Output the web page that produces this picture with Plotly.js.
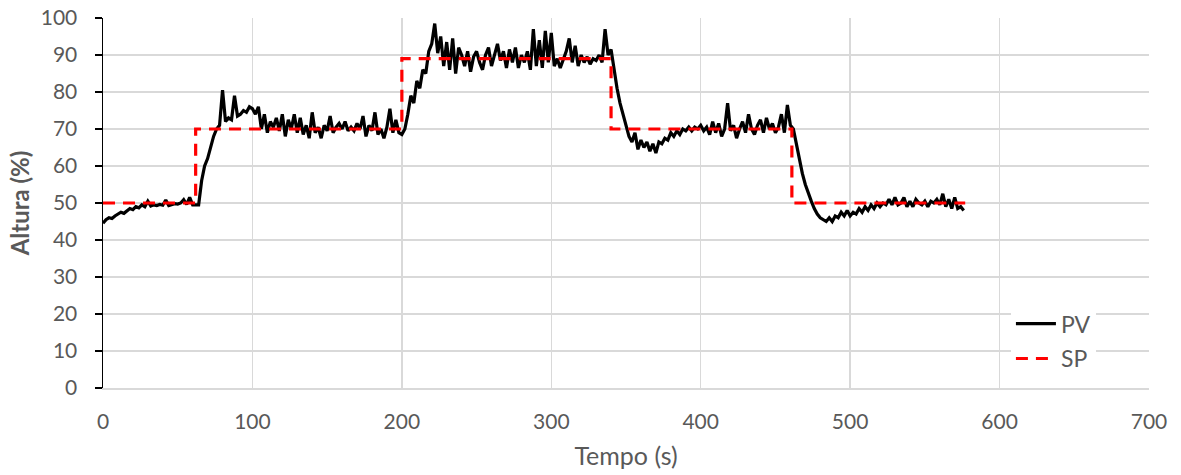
<!DOCTYPE html>
<html>
<head>
<meta charset="utf-8">
<script src="https://cdn.plot.ly/plotly-3.0.1.min.js"></script>
<style>html,body{margin:0;padding:0;background:#fff;}#chart{width:1181px;height:475px;}</style>
</head>
<body>
<div id="chart"></div>
<script>
// Sampling interval of the PV record (s)
const sampleStep = 2;
// Process variable (PV), one value every 2 s starting at t = 0
const pvValues = [
  44.5,45.5,46,45.8,46.5,47,47.5,47.2,48,48.5,
  48.2,49,48.7,49.5,49,50.5,49.2,49.5,49.3,49.6,
  49.4,50.8,49.3,49.6,49.8,49.7,50,50.9,49.6,51.5,
  49.5,49.5,49.5,56,60,62,65,68,70,71,
  80.5,72,73,72.5,79,73.5,74,75,74.5,76,
  75.5,74,76,70,74,69,72,70.5,73,69.5,
  74,68,72.5,70,74,69,73,68.5,71,67.5,
  74.5,69,70.5,67.5,71,69.5,73.5,69,70.5,71.5,
  70,72,69.5,70.5,69.5,71.5,70,73.5,68,71,
  69.5,74.5,68.5,70,67.5,70.5,75.5,69,72.5,69,
  68.5,70,74,79,77,83,81,86,85,91,
  93,98.5,90.5,95,87,93.5,86,94.5,85,92,
  90,87,91,85.5,89.5,91,88,86,90,92,
  87,90,93,88.5,91,86.5,91.5,88,92,86.5,
  90,88,91,86,97,87,94,86.5,96.5,88,
  96,87,89,86.5,88.5,91,94.5,88,92.5,87,
  90,88,89.5,87.5,89,88.5,90,88,97,90,
  91.5,86,81,77,74,71,68,66.5,69,64.5,
  67,65,66.5,64,66,63.5,66.5,66,67.5,67,
  69,68,69.5,68.5,70,69.5,70.5,69.5,70.5,70,
  71,69.5,70.5,68.5,72,69,71.5,68,70,77,
  69.5,71,67.5,70,72,69,74,70,68.5,71,
  72.5,69,73,70,71.5,69,70.5,74,69,76.5,
  71,70,66,61,58,55,52.5,50.5,48.5,47,
  46,45.5,45,46,45,46.5,46,47.5,46.5,48,
  46.5,47.5,47,48.5,47.5,49,48,49.5,48.5,50,
  49,50,49.5,51,49.5,51.5,49.5,50,51.5,49,
  50.5,49,51,50,49.5,50.5,49,50.5,50,51,
  49.5,52.5,49,51,48.5,51.5,48.5,49,48
];
const pvTime = pvValues.map((v, i) => i * sampleStep);

// Setpoint (SP) steps
const spTime   = [0, 62, 62, 200, 200, 340, 340, 461, 461, 577];
const spValues = [50, 50, 70, 70, 89, 89, 70, 70, 50, 50];

const xTicks = [0, 100, 200, 300, 400, 500, 600, 700];
const yTicks = [0, 10, 20, 30, 40, 50, 60, 70, 80, 90, 100];

const fontFam = 'Lato, "Open Sans", sans-serif';
const grey = '#595959';

const traces = [
  {x: pvTime, y: pvValues, name: 'PV', type: 'scatter', mode: 'lines',
   line: {color: '#000000', width: 3.2}, legendgroup: 'a'},
  {x: spTime, y: spValues, name: 'SP', type: 'scatter', mode: 'lines',
   line: {color: '#ff0000', width: 3.2, dash: '12px,8px'}, legendgroup: 'b'}
];

const layout = {
  width: 1181, height: 475,
  margin: {l: 103, r: 32, t: 18, b: 87},
  paper_bgcolor: '#ffffff', plot_bgcolor: '#ffffff',
  font: {family: fontFam, size: 21, color: grey},
  xaxis: {
    range: [0, 700], tickvals: xTicks, ticktext: xTicks.map(String),
    showgrid: true, gridcolor: '#d9d9d9', gridwidth: 1.5,
    zeroline: false, showline: true, linecolor: '#d9d9d9', linewidth: 1.5,
    ticks: '', ticklabelstandoff: 14,
    tickfont: {family: fontFam, size: 21, color: grey},
    title: {text: 'Tempo (s)', font: {family: fontFam, size: 25, color: grey}, standoff: 16}
  },
  yaxis: {
    range: [0, 100], tickvals: yTicks, ticktext: yTicks.map(String),
    showgrid: true, gridcolor: '#d9d9d9', gridwidth: 1.5,
    zeroline: false, showline: true, linecolor: '#000000', linewidth: 1.5,
    ticks: 'outside', ticklen: 7, tickcolor: '#000000', tickwidth: 1.5,
    ticklabelstandoff: 13,
    tickfont: {family: fontFam, size: 21, color: grey},
    title: {text: '<b>Altura (%)</b>', font: {family: fontFam, size: 24, color: grey}, standoff: 4}
  },
  showlegend: true,
  legend: {
    x: 0.868, y: 0.232, xanchor: 'left', yanchor: 'top',
    bgcolor: '#ffffff', borderwidth: 0,
    font: {family: fontFam, size: 23, color: grey},
    tracegroupgap: 2, itemwidth: 40
  }
};

Plotly.newPlot('chart', traces, layout, {displayModeBar: false, staticPlot: true});
</script>
</body>
</html>
